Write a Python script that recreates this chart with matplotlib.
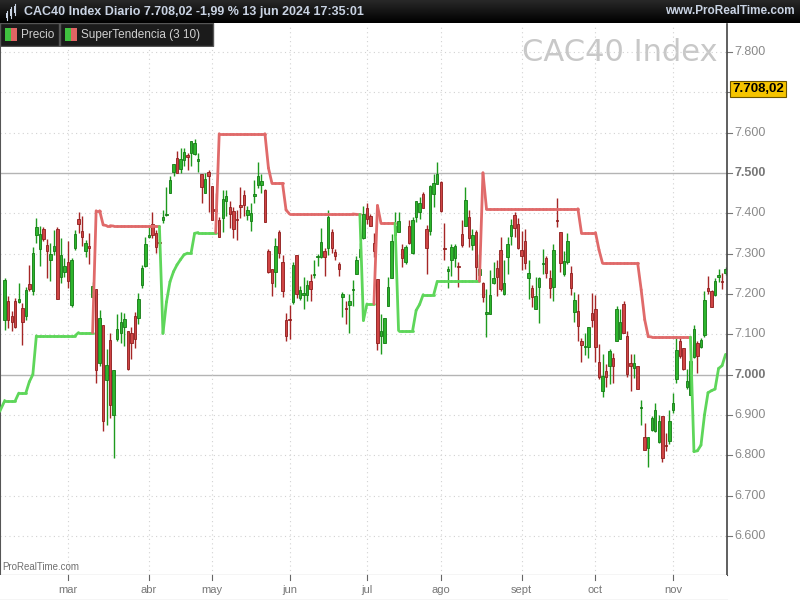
import numpy as np
import matplotlib
matplotlib.use("Agg")
import matplotlib.pyplot as plt
from matplotlib.patches import Rectangle

# daily candles, CAC40, one row per session: open, high, low, close
opens = [7135, 7183, 7145, 7183, 7180, 7166, 7146, 7224, 7206, 7345, 7311, 7360, 7322, 7283, 7307, 7360,
         7243, 7253, 7280, 7173, 7313, 7386, 7356, 7305, 7318, 7192, 7212, 7028, 7122, 6987, 7086, 6900,
         7088, 7104, 7117, 7108, 7102, 7144, 7140, 7221, 7270, 7342, 7374, 7350, 7329, 7382, 7395, 7451,
         7501, 7536, 7509, 7531, 7545, 7549, 7546, 7529, 7497, 7451, 7501, 7468, 7410, 7383, 7387, 7429,
         7415, 7406, 7386, 7421, 7444, 7396, 7381, 7443, 7470, 7469, 7458, 7307, 7261, 7255, 7353, 7279,
         7136, 7138, 7181, 7297, 7189, 7197, 7196, 7232, 7247, 7291, 7291, 7307, 7313, 7353, 7303, 7274,
         7192, 7165, 7173, 7209, 7250, 7291, 7339, 7413, 7392, 7326, 7237, 7095, 7079, 7171, 7239, 7345,
         7353, 7312, 7279, 7368, 7302, 7390, 7402, 7448, 7361, 7357, 7448, 7473, 7477, 7312, 7257, 7285,
         7289, 7270, 7349, 7369, 7390, 7322, 7354, 7247, 7227, 7150, 7150, 7226, 7264, 7309, 7199, 7291,
         7343, 7396, 7372, 7309, 7332, 7239, 7215, 7163, 7217, 7274, 7289, 7240, 7217, 7383, 7353, 7249,
         7278, 7251, 7156, 7158, 7083, 7068, 7068, 7152, 7162, 7031, 6958, 7008, 7022, 7040, 7084, 7088,
         7174, 7096, 7028, 7016, 7021, 6916, 6846, 6817, 6863, 6859, 6832, 6896, 6826, 6836, 6912, 6988,
         7083, 7067, 6970, 6950, 7043, 7079, 7069, 7098, 7214, 7206, 7198, 7241, 7232, 7251]
highs = [7240, 7194, 7157, 7189, 7226, 7177, 7217, 7272, 7317, 7388, 7369, 7365, 7336, 7326, 7359, 7365,
         7339, 7288, 7330, 7288, 7359, 7402, 7392, 7334, 7352, 7230, 7212, 7160, 7122, 7063, 7102, 7012,
         7150, 7156, 7152, 7108, 7119, 7154, 7202, 7272, 7342, 7367, 7402, 7359, 7335, 7407, 7466, 7491,
         7521, 7553, 7561, 7561, 7549, 7580, 7583, 7549, 7497, 7499, 7507, 7468, 7449, 7391, 7458, 7457,
         7429, 7415, 7408, 7466, 7458, 7419, 7425, 7483, 7526, 7497, 7460, 7310, 7261, 7338, 7359, 7297,
         7152, 7172, 7280, 7297, 7220, 7241, 7235, 7250, 7284, 7300, 7363, 7313, 7407, 7361, 7310, 7280,
         7204, 7183, 7200, 7235, 7293, 7327, 7419, 7426, 7398, 7350, 7237, 7150, 7141, 7243, 7349, 7403,
         7403, 7324, 7320, 7382, 7390, 7431, 7440, 7452, 7371, 7469, 7498, 7526, 7480, 7375, 7268, 7323,
         7324, 7278, 7382, 7465, 7407, 7360, 7358, 7298, 7230, 7211, 7258, 7280, 7283, 7342, 7283, 7340,
         7386, 7404, 7388, 7356, 7360, 7285, 7221, 7242, 7242, 7311, 7295, 7260, 7323, 7437, 7353, 7307,
         7350, 7269, 7204, 7199, 7090, 7104, 7119, 7203, 7198, 7076, 7051, 7025, 7063, 7053, 7170, 7162,
         7182, 7108, 7051, 7051, 7021, 6937, 6879, 6846, 6897, 6929, 6900, 6898, 6855, 6912, 6954, 7096,
         7093, 7067, 7013, 7037, 7123, 7083, 7090, 7206, 7245, 7210, 7239, 7261, 7252, 7266]
lows = [7111, 7115, 7107, 7115, 7177, 7072, 7136, 7206, 7198, 7326, 7268, 7330, 7240, 7231, 7297, 7187,
        7227, 7243, 7214, 7168, 7308, 7350, 7319, 7292, 7274, 7189, 6979, 7020, 6860, 6875, 6893, 6793,
        7082, 7078, 7070, 7011, 7038, 7065, 7126, 7214, 7267, 7338, 7338, 7301, 7320, 7375, 7393, 7449,
        7491, 7499, 7499, 7516, 7507, 7516, 7543, 7503, 7426, 7449, 7402, 7382, 7398, 7340, 7354, 7393,
        7364, 7338, 7334, 7388, 7392, 7382, 7355, 7426, 7462, 7451, 7379, 7251, 7195, 7218, 7290, 7192,
        7082, 7088, 7175, 7189, 7185, 7163, 7183, 7183, 7240, 7270, 7290, 7245, 7297, 7301, 7285, 7245,
        7143, 7125, 7103, 7171, 7248, 7285, 7337, 7374, 7367, 7291, 7060, 7050, 7079, 7169, 7239, 7340,
        7353, 7266, 7275, 7324, 7300, 7378, 7385, 7412, 7250, 7345, 7415, 7473, 7403, 7283, 7215, 7245,
        7267, 7216, 7316, 7367, 7316, 7308, 7235, 7245, 7181, 7093, 7150, 7224, 7195, 7208, 7197, 7250,
        7320, 7341, 7311, 7258, 7262, 7187, 7168, 7163, 7128, 7248, 7239, 7190, 7183, 7365, 7253, 7245,
        7274, 7198, 7131, 7084, 7032, 7049, 7041, 7119, 7032, 6988, 6945, 6968, 6977, 6979, 7084, 7088,
        7102, 6995, 6960, 6991, 6964, 6875, 6813, 6770, 6860, 6857, 6830, 6784, 6810, 6829, 6905, 6980,
        7041, 7010, 6965, 6950, 7040, 7003, 7065, 7094, 7200, 7167, 7194, 7230, 7212, 7247]
closes = [7235, 7136, 7131, 7119, 7188, 7130, 7210, 7212, 7301, 7366, 7348, 7336, 7307, 7299, 7319, 7187,
          7297, 7269, 7233, 7284, 7349, 7373, 7340, 7326, 7314, 7220, 7010, 7140, 6884, 7024, 6925, 7012,
          7112, 7131, 7137, 7013, 7078, 7088, 7187, 7264, 7323, 7346, 7346, 7316, 7325, 7390, 7398, 7483,
          7521, 7499, 7534, 7551, 7539, 7579, 7575, 7534, 7466, 7484, 7491, 7382, 7405, 7341, 7436, 7443,
          7398, 7360, 7383, 7415, 7421, 7408, 7400, 7447, 7491, 7480, 7379, 7253, 7228, 7319, 7302, 7208,
          7096, 7135, 7272, 7199, 7210, 7203, 7222, 7212, 7249, 7293, 7328, 7291, 7390, 7313, 7293, 7262,
          7200, 7163, 7183, 7212, 7285, 7312, 7398, 7386, 7369, 7307, 7078, 7109, 7141, 7218, 7332, 7369,
          7380, 7289, 7316, 7326, 7382, 7431, 7425, 7414, 7314, 7467, 7475, 7498, 7405, 7310, 7262, 7315,
          7318, 7266, 7320, 7433, 7339, 7346, 7267, 7262, 7191, 7154, 7196, 7240, 7243, 7212, 7227, 7324,
          7371, 7364, 7313, 7293, 7276, 7252, 7193, 7194, 7240, 7277, 7252, 7215, 7309, 7380, 7276, 7282,
          7331, 7214, 7185, 7121, 7072, 7070, 7117, 7134, 7068, 6995, 6997, 6995, 7059, 7020, 7162, 7131,
          7102, 7001, 7021, 7028, 6964, 6918, 6813, 6846, 6892, 6911, 6886, 6793, 6822, 6884, 6930, 7061,
          7045, 7013, 6983, 7034, 7112, 7045, 7086, 7185, 7208, 7167, 7233, 7247, 7230, 7261]

# SuperTendencia (3, 10): level and trend side (1 = up/green, -1 = down/red)
st_level = [6935, 6935, 6935, 6935, 6954, 6954, 6954, 6982, 7000, 7096, 7096, 7096, 7096, 7096, 7096, 7096,
            7096, 7096, 7096, 7096, 7096, 7104, 7104, 7104, 7104, 7104, 7406, 7406, 7371, 7369, 7369, 7368,
            7368, 7368, 7368, 7368, 7368, 7368, 7368, 7368, 7368, 7368, 7368, 7367, 7367, 7102, 7180, 7230,
            7255, 7272, 7285, 7297, 7301, 7301, 7350, 7352, 7352, 7352, 7352, 7352, 7352, 7597, 7597, 7597,
            7597, 7597, 7597, 7597, 7597, 7597, 7597, 7597, 7597, 7597, 7597, 7512, 7474, 7474, 7474, 7474,
            7408, 7398, 7398, 7398, 7398, 7398, 7398, 7398, 7398, 7398, 7398, 7398, 7398, 7398, 7398, 7398,
            7398, 7398, 7398, 7398, 7397, 7397, 7134, 7175, 7175, 7175, 7419, 7375, 7375, 7375, 7375, 7375,
            7109, 7109, 7109, 7109, 7109, 7159, 7174, 7198, 7198, 7198, 7198, 7231, 7231, 7231, 7231, 7231,
            7231, 7231, 7231, 7231, 7231, 7231, 7231, 7231, 7500, 7411, 7411, 7411, 7411, 7411, 7411, 7411,
            7411, 7411, 7411, 7411, 7411, 7411, 7411, 7411, 7411, 7411, 7411, 7411, 7411, 7411, 7411, 7411,
            7411, 7411, 7411, 7411, 7352, 7352, 7352, 7352, 7352, 7309, 7276, 7276, 7276, 7276, 7276, 7276,
            7276, 7276, 7276, 7276, 7276, 7210, 7136, 7094, 7093, 7093, 7093, 7093, 7093, 7093, 7093, 7093,
            7093, 7093, 7093, 7093, 6809, 6811, 6825, 6900, 6955, 6960, 6964, 7015, 7022, 7050]
st_side = ([1] * 26 + [-1] * 19 + [1] * 16 + [-1] * 41 + [1] * 4 + [-1] * 6 + [1] * 24
           + [-1] * 60 + [1] * 10)

month_labels = ["mar", "abr", "may", "jun", "jul", "ago", "sept", "oct", "nov"]
month_start = [18, 41, 59, 81, 103, 124, 147, 168, 190]

price_ticks = [6600, 6700, 6800, 6900, 7000, 7100, 7200, 7300, 7400, 7500, 7600, 7700, 7800]
last_price = 7708.02

G_FILL, G_EDGE = "#2db52d", "#137a13"
R_FILL, R_EDGE = "#cf4444", "#8e1c1c"
ST_UP, ST_DN = "#5ed65a", "#e06a6a"

W, H = 800, 600
fig = plt.figure(figsize=(8, 6), dpi=100)
fig.patch.set_facecolor("white")

# main price panel
ax = fig.add_axes([0, 25 / H, 727 / W, 551 / H])
x = np.arange(len(closes))
ax.set_xlim(-1.34, 205.4)
ax.set_ylim(6503, 7869)

for p in price_ticks:
    if p in (7000, 7500):
        ax.axhline(p, color="#b4b4b4", lw=1.0, zorder=1)
    else:
        ax.axhline(p, color="#d2d2d2", lw=0.8, ls=(0, (1, 3)), zorder=1)
for m in month_start:
    ax.axvline(m, color="#d2d2d2", lw=0.8, ls=(0, (1, 3)), zorder=1)

# candles
for i in x:
    o, h, l, c = opens[i], highs[i], lows[i], closes[i]
    up = c >= o
    wick = "#1e9a1e" if up else "#a52626"
    ax.vlines(i, l, h, color=wick, lw=1.0, zorder=2)
    lo, hi = min(o, c), max(o, c)
    ax.add_patch(Rectangle((i - 0.35, lo), 0.7, max(hi - lo, 2.5),
                           facecolor=G_FILL if up else R_FILL,
                           edgecolor=G_EDGE if up else R_EDGE, lw=0.6, zorder=3))

# supertrend, each segment coloured by the side of its end point
for i in range(1, len(st_level)):
    col = ST_UP if st_side[i] == 1 else ST_DN
    ax.plot([i - 1, i], [st_level[i - 1], st_level[i]], color=col, lw=2.0,
            solid_capstyle="round", zorder=4)
ax.plot([-1.34, 0], [6910, st_level[0]], color=ST_UP, lw=2.0, zorder=4)

ax.set_xticks([])
ax.set_yticks([])
for s in ["top", "right"]:
    ax.spines[s].set_visible(False)
ax.spines["left"].set_color("#555555")
ax.spines["bottom"].set_color("#555555")
ax.spines["left"].set_linewidth(1.5)

ax.text(0.987, 0.975, "CAC40 Index", transform=ax.transAxes, ha="right", va="top",
        fontsize=22, color="#c8c8c8", zorder=0)
ax.text(0.003, 0.005, "ProRealTime.com", transform=ax.transAxes, ha="left", va="bottom",
        fontsize=7, color="#707070", family="Liberation Sans")

# right price scale
ay = fig.add_axes([727 / W, 25 / H, 73 / W, 551 / H])
ay.set_xlim(0, 1)
ay.set_ylim(6503, 7869)
ay.set_xticks([])
ay.set_yticks([])
for s in ["top", "right", "bottom"]:
    ay.spines[s].set_visible(False)
ay.spines["left"].set_color("#444444")
ay.spines["left"].set_linewidth(1.2)
for p in price_ticks:
    bold = p in (7000, 7500)
    ay.plot([0, 0.07], [p, p], color="#777777", lw=0.8)
    if p == 7700:
        continue  # hidden behind the last-price box
    ay.text(0.1, p, f"{p // 1000}.{p % 1000:03d}", ha="left", va="center", fontsize=9,
            color="#777777" if bold else "#8a8a8a", fontweight="bold" if bold else "normal",
            family="Liberation Sans")
ay.text(0.07, last_price, "7.708,02", ha="left", va="center", fontsize=9.5, fontweight="bold",
        color="black", family="Liberation Sans", zorder=5,
        bbox=dict(boxstyle="square,pad=0.18", facecolor="#f5c400", edgecolor="#6b5500", lw=0.8))

# month axis
axm = fig.add_axes([0, 0, 727 / W, 25 / H])
axm.set_xlim(-1.34, 205.4)
axm.set_ylim(0, 1)
axm.set_xticks([])
axm.set_yticks([])
for s in ["top", "right", "left"]:
    axm.spines[s].set_visible(False)
axm.spines["bottom"].set_color("#555555")
for m, lab in zip(month_start, month_labels):
    axm.plot([m, m], [0.82, 1.0], color="#666666", lw=0.8)
    axm.text(m, 0.4, lab, ha="center", va="center", fontsize=8, color="#777777",
             family="Liberation Sans")

# header bar
hb = fig.add_axes([0, 1 - 23 / H, 1, 23 / H])
hb.set_xlim(0, W)
hb.set_ylim(0, 23)
hb.axis("off")
grad = np.linspace(0.16, 0.0, 50).reshape(-1, 1)
hb.imshow(grad, extent=[0, W, 0, 23], aspect="auto", cmap="gray", vmin=0, vmax=1)
hb.text(24, 11.5, "CAC40 Index Diario 7.708,02 -1,99 % 13 jun 2024 17:35:01", ha="left",
        va="center", fontsize=9, fontweight="bold", color="#c9d3e3", family="Liberation Sans")
hb.text(795, 11.5, "www.ProRealTime.com", ha="right", va="center", fontsize=8.5,
        fontweight="bold", color="#c9d3e3", family="Liberation Sans")
# little candle icon
for k, (lo_, hi_) in enumerate([(5, 10), (7, 14), (10, 17)]):
    hb.plot([7 + k * 4, 7 + k * 4], [lo_ - 2, hi_ + 2], color="#c9d3e3", lw=0.8)
    hb.add_patch(Rectangle((5.8 + k * 4, lo_), 2.4, hi_ - lo_, facecolor="#c9d3e3", lw=0))

# legend boxes
lg = fig.add_axes([0, 1 - 47 / H, 1, 24 / H])
lg.set_xlim(0, W)
lg.set_ylim(24, 0)
lg.axis("off")
for x0, x1, lab in [(0, 59, "Precio"), (60, 213, "SuperTendencia (3 10)")]:
    lg.add_patch(Rectangle((x0, 0), x1 - x0, 23, facecolor="#1b1b1b", edgecolor="#555555", lw=1))
    lg.add_patch(Rectangle((x0 + 5, 5), 6, 13, facecolor="#3fc23f", lw=0))
    lg.add_patch(Rectangle((x0 + 11, 5), 6, 13, facecolor="#e06464", lw=0))
    lg.text(x0 + 21, 12, lab, ha="left", va="center", fontsize=8.5, color="#cfcfcf",
            family="Liberation Sans")

fig.savefig("out.png", dpi=100)
